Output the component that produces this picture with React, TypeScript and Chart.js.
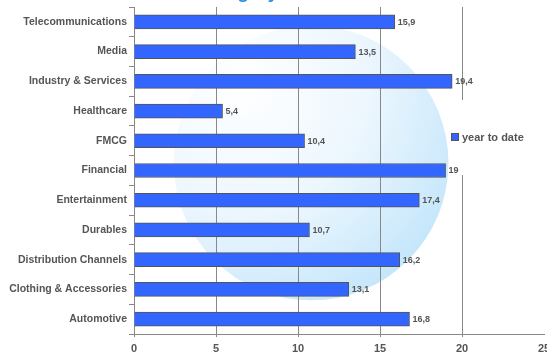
import React, { useEffect, useRef } from "react";
import { Chart, registerables } from "chart.js";

Chart.register(...registerables);

const categories = [
  "Telecommunications",
  "Media",
  "Industry & Services",
  "Healthcare",
  "FMCG",
  "Financial",
  "Entertainment",
  "Durables",
  "Distribution Channels",
  "Clothing & Accessories",
  "Automotive",
];
const yearToDate = [15.9, 13.5, 19.4, 5.4, 10.4, 19, 17.4, 10.7, 16.2, 13.1, 16.8];
const seriesLabel = "year to date";
const xTicks = [0, 5, 10, 15, 20, 25];
const titleText = "Category";

const FONT = "'Liberation Sans', Arial, sans-serif";
const TEXT = "#555555";
const BAR = "#3366ff";

const decorPlugin = {
  id: "decor",
  beforeDraw(chart: any) {
    const { ctx, chartArea } = chart;
    const w = chartArea.right - chartArea.left;
    const h = chartArea.bottom - chartArea.top;
    const cx = chartArea.left + 0.432 * w;
    const cy = chartArea.top + 0.477 * h;
    const r = 0.42 * h;
    ctx.save();
    const g = ctx.createRadialGradient(cx - 0.5 * r, cy - 0.55 * r, 0, cx - 0.5 * r, cy - 0.55 * r, 1.8 * r);
    g.addColorStop(0, "#ffffff");
    g.addColorStop(0.5, "#edf7fe");
    g.addColorStop(1, "#c2e5fb");
    ctx.fillStyle = g;
    ctx.beginPath();
    ctx.arc(cx, cy, r, 0, Math.PI * 2);
    ctx.fill();
    // clipped title (only descenders visible)
    ctx.fillStyle = "#2a8ee8";
    ctx.font = `bold 19px ${FONT}`;
    ctx.textBaseline = "alphabetic";
    ctx.textAlign = "left";
    ctx.fillText(titleText, 196, -2);
    ctx.restore();
  },
  beforeDatasetsDraw(chart: any) {
    const { ctx } = chart;
    ctx.save();
    ctx.fillStyle = "#ffffff";
    ctx.fillRect(449, 100, 98, 75);
    ctx.fillStyle = BAR;
    ctx.strokeStyle = "#555";
    ctx.lineWidth = 1;
    ctx.fillRect(451.5, 133.5, 7, 7);
    ctx.strokeRect(451.5, 133.5, 7, 7);
    ctx.fillStyle = TEXT;
    ctx.font = `bold 11px ${FONT}`;
    ctx.textBaseline = "middle";
    ctx.textAlign = "left";
    ctx.fillText(chart.data.datasets[0].label, 462, 137.5);
    ctx.restore();
  },
  afterDatasetsDraw(chart: any) {
    const { ctx } = chart;
    const meta = chart.getDatasetMeta(0);
    ctx.save();
    ctx.font = `bold 9px ${FONT}`;
    ctx.fillStyle = TEXT;
    ctx.textBaseline = "middle";
    ctx.textAlign = "left";
    meta.data.forEach((el: any, i: number) => {
      const v = chart.data.datasets[0].data[i];
      ctx.fillText(String(v).replace(".", ","), el.x + 3, el.y + 0.5);
    });
    ctx.restore();
  },
};

export default function App() {
  const ref = useRef<HTMLCanvasElement | null>(null);
  useEffect(() => {
    document.body.style.margin = "0";
    const chart = new Chart(ref.current!, {
      type: "bar",
      data: {
        labels: categories,
        datasets: [
          {
            label: seriesLabel,
            data: yearToDate,
            backgroundColor: BAR,
            borderColor: "#555555",
            borderWidth: 1,
            barThickness: 14,
          },
        ],
      },
      options: {
        indexAxis: "y",
        animation: false,
        responsive: true,
        maintainAspectRatio: false,
        layout: { padding: { top: 7, right: 3, left: 0, bottom: 0 } },
        plugins: { legend: { display: false }, tooltip: { enabled: false } },
        scales: {
          x: {
            min: 0,
            max: 25,
            afterBuildTicks: (s: any) => {
              s.ticks = xTicks.map((v) => ({ value: v }));
            },
            afterFit: (s: any) => {
              s.height = 22;
              s.paddingLeft = 0;
              s.paddingRight = 0;
            },
            grid: {
              color: (c: any) => (c.tick && c.tick.value === 25 ? "rgba(0,0,0,0)" : "#888888"),
              lineWidth: 1,
              tickLength: 3,
            },
            border: { display: true, color: "#888888" },
            ticks: {
              padding: 5,
              color: TEXT,
              font: { family: FONT, size: 11, weight: "bold" },
              maxRotation: 0,
            },
          },
          y: {
            afterFit: (s: any) => {
              s.width = 134;
              s.paddingTop = 0;
              s.paddingBottom = 0;
            },
            grid: { drawOnChartArea: false, color: "#888888", tickLength: 5, offset: true },
            border: { display: true, color: "#888888" },
            ticks: {
              padding: 2,
              color: TEXT,
              font: { family: FONT, size: 10.5, weight: "bold" },
              autoSkip: false,
            },
          },
        },
      },
      plugins: [decorPlugin],
    } as any);
    return () => chart.destroy();
  }, []);
  return (
    <div style={{ position: "absolute", left: 0, top: 0, width: 547, height: 356 }}>
      <canvas ref={ref} />
    </div>
  );
}
